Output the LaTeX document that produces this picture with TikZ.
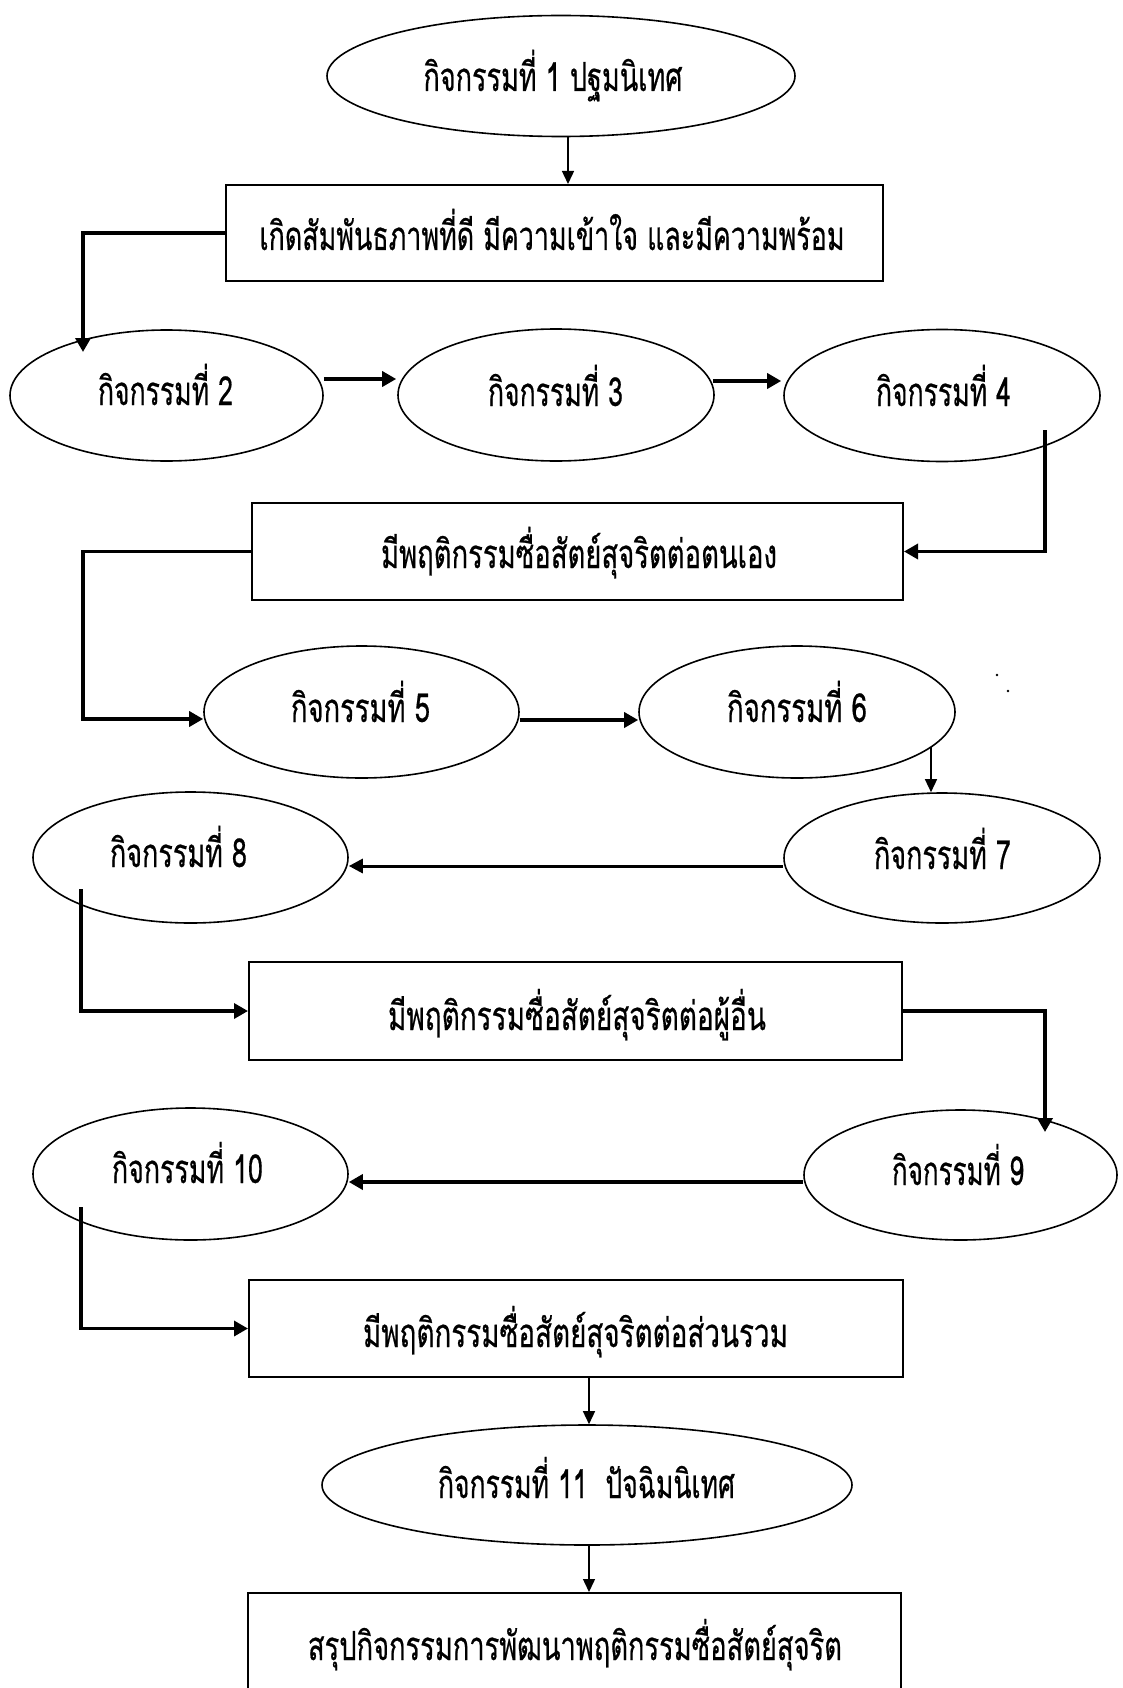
\documentclass[tikz,border=0pt]{standalone}
\usepackage{fontspec}
\usepackage{graphicx}
\newfontfamily\thaifont[Script=Thai,FakeBold=0.6]{Loma}
\usetikzlibrary{shapes.geometric,arrows.meta,calc}
\newcommand\fw[2]{\resizebox{#1pt}{\height}{#2}}
\tikzset{
  ell/.style={draw, ellipse, line width=1.6pt, inner sep=0pt},
  boxs/.style={draw, rectangle, line width=2pt, inner sep=0pt},
  lbl/.style={anchor=base, inner sep=0pt, font=\thaifont\fontsize{40}{44}\selectfont},
  thinarr/.style={line width=1.4pt, -{Triangle[length=13pt,width=12pt]}},
  medarr/.style={line width=3pt, -{Triangle[length=14pt,width=14pt]}},
  thickarr/.style={line width=3.4pt, line join=miter, -{Triangle[length=14pt,width=15pt]}}
}
\begin{document}
\begin{tikzpicture}[x=1pt,y=-1pt]
\useasboundingbox (0,0) rectangle (1122,1688);
% ellipses
\node[ell, minimum width=468pt, minimum height=121pt] (e1) at (561,76) {};
\node[ell, minimum width=313pt, minimum height=131pt] (e2) at (166.5,395.5) {};
\node[ell, minimum width=316pt, minimum height=132pt] (e3) at (556,395) {};
\node[ell, minimum width=316pt, minimum height=132pt] (e4) at (942,395.5) {};
\node[ell, minimum width=315pt, minimum height=132pt] (e5) at (361.5,712) {};
\node[ell, minimum width=316pt, minimum height=132pt] (e6) at (797,712) {};
\node[ell, minimum width=316pt, minimum height=130pt] (e7) at (942,858) {};
\node[ell, minimum width=315pt, minimum height=131pt] (e8) at (190.5,857.5) {};
\node[ell, minimum width=313pt, minimum height=130pt] (e9) at (960.5,1175) {};
\node[ell, minimum width=315pt, minimum height=132pt] (e10) at (190.5,1174) {};
\node[ell, minimum width=530pt, minimum height=120pt] (e11) at (587,1485) {};
% boxes
\node[boxs, minimum width=657pt, minimum height=96pt] (b1) at (554.5,233) {};
\node[boxs, minimum width=651pt, minimum height=97pt] (b2) at (577.5,551.5) {};
\node[boxs, minimum width=653pt, minimum height=98pt] (b3) at (575.5,1011) {};
\node[boxs, minimum width=654pt, minimum height=97pt] (b4) at (576,1328.5) {};
\node[boxs, minimum width=653pt, minimum height=98pt] (b5) at (574.5,1642) {};
% texts
\node[lbl] (t1) at (553,91) {\fw{259}{กิจกรรมที่ 1 ปฐมนิเทศ}};
\node[lbl] (tb1) at (552,250) {\fw{585}{เกิดสัมพันธภาพที่ดี มีความเข้าใจ และมีความพร้อม}};
\node[lbl] (t2) at (165.5,405) {\fw{135}{กิจกรรมที่ 2}};
\node[lbl] (t3) at (555.5,406) {\fw{135}{กิจกรรมที่ 3}};
\node[lbl] (t4) at (943.5,406) {\fw{135}{กิจกรรมที่ 4}};
\node[lbl] (tb2) at (579,568) {\fw{396}{มีพฤติกรรมซื่อสัตย์สุจริตต่อตนเอง}};
\node[lbl] (t5) at (360.5,722) {\fw{139}{กิจกรรมที่ 5}};
\node[lbl] (t6) at (797,722) {\fw{140}{กิจกรรมที่ 6}};
\node[lbl] (t7) at (942.5,869) {\fw{137}{กิจกรรมที่ 7}};
\node[lbl] (t8) at (178.5,867) {\fw{137}{กิจกรรมที่ 8}};
\node[lbl] (tb3) at (577,1030) {\fw{378}{มีพฤติกรรมซื่อสัตย์สุจริตต่อผู้อื่น}};
\node[lbl] (t9) at (958,1185) {\fw{132}{กิจกรรมที่ 9}};
\node[lbl] (t10) at (187.5,1183) {\fw{151}{กิจกรรมที่ 10}};
\node[lbl] (tb4) at (575.5,1347) {\fw{425}{มีพฤติกรรมซื่อสัตย์สุจริตต่อส่วนรวม}};
\node[lbl] (t11) at (586.5,1498) {\fw{297}{กิจกรรมที่ 11~ ปัจฉิมนิเทศ}};
\node[lbl] (tb5) at (575,1660) {\fw{534}{สรุปกิจกรรมการพัฒนาพฤติกรรมซื่อสัตย์สุจริต}};
% helper coordinates
\coordinate (cC) at (568,0);
\coordinate (cE) at (589,0);
\coordinate (c2) at (83,352);
\coordinate (c5) at (1045,430);
\coordinate (c6) at (83,719);
\coordinate (c8) at (931,747);
\coordinate (c10) at (81,889);
\coordinate (c11) at (1045,1132);
\coordinate (c13) at (81,1207);
% connectors
\draw[thinarr] (e1.south -| cC) -- (b1.north -| cC);
\draw[thickarr] (b1.west) -| (c2);
\draw[thickarr] ($(e2.east)+(0,-16.5)$) -- ($(e3.west)+(-1,-16)$);
\draw[thickarr] ($(e3.east)+(-2,-14)$) -- ($(e4.west)+(-2,-14.5)$);
\draw[thickarr] (c5) |- (b2.east);
\draw[thickarr] (b2.west) -| (c6) -- (e5.west |- c6);
\draw[thickarr] ($(e5.east)+(0,8)$) -- ($(e6.west)+(0,8)$);
\draw[thinarr] (c8) -- (e7.north -| c8);
\draw[medarr] ($(e7.west)+(0,8)$) -- ($(e8.east)+(0,8.5)$);
\draw[thickarr] (c10) |- (b3.west);
\draw[thickarr] (b3.east) -| (c11);
\draw[thickarr] ($(e9.west)+(0,7)$) -- ($(e10.east)+(0,8)$);
\draw[thickarr] (c13) |- (b4.west);
\draw[thinarr] (b4.south -| cE) -- (e11.north -| cE);
\draw[thinarr] (e11.south -| cE) -- (b5.north -| cE);
% specks
\fill (997,675) circle (1.3pt);
\fill (1008,691) circle (1.3pt);
\end{tikzpicture}
\end{document}
